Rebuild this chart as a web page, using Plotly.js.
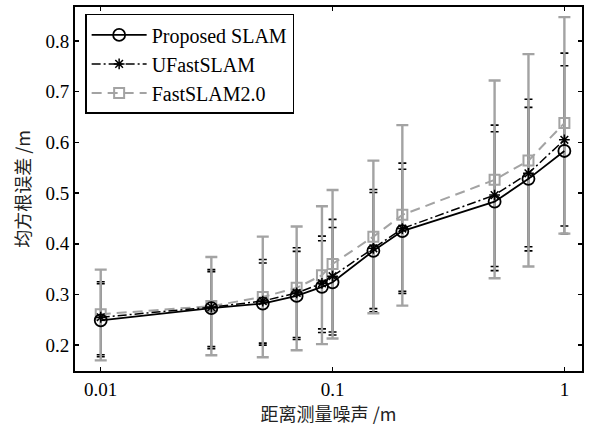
<!DOCTYPE html>
<html>
<head>
<meta charset="utf-8">
<script src="https://cdn.plot.ly/plotly-3.0.1.min.js"></script>
<style>html,body{margin:0;padding:0;background:#fff;}#chart{width:589px;height:427px;}</style>
</head>
<body>
<div id="chart"></div>
<script>
// Noise levels (m)
const noise = [0.01, 0.03, 0.05, 0.07, 0.09, 0.1, 0.15, 0.2, 0.5, 0.7, 1];
const tickVals = [0.01, 0.1, 1];
const tickText = ['0.01', '0.1', '1'];

// Proposed SLAM
const proposed      = [0.249, 0.273, 0.282, 0.297, 0.315, 0.324, 0.386, 0.425, 0.483, 0.528, 0.583];
const proposedUpper = [0.321, 0.345, 0.362, 0.385, 0.406, 0.432, 0.501, 0.547, 0.621, 0.669, 0.751];
const proposedLower = [0.181, 0.197, 0.204, 0.215, 0.232, 0.226, 0.272, 0.306, 0.355, 0.394, 0.435];

// UFastSLAM
const ufast      = [0.255, 0.275, 0.287, 0.303, 0.322, 0.336, 0.391, 0.430, 0.496, 0.539, 0.605];
const ufastUpper = [0.325, 0.349, 0.369, 0.392, 0.415, 0.448, 0.507, 0.559, 0.634, 0.685, 0.776];
const ufastLower = [0.177, 0.193, 0.200, 0.211, 0.225, 0.220, 0.266, 0.302, 0.347, 0.386, 0.420];

// FastSLAM2.0
const fast      = [0.261, 0.277, 0.295, 0.313, 0.338, 0.360, 0.414, 0.457, 0.526, 0.564, 0.638];
const fastUpper = [0.349, 0.374, 0.414, 0.434, 0.474, 0.506, 0.564, 0.634, 0.722, 0.774, 0.847];
const fastLower = [0.170, 0.180, 0.176, 0.190, 0.202, 0.213, 0.263, 0.278, 0.332, 0.355, 0.420];

const names = ['Proposed SLAM', 'UFastSLAM', 'FastSLAM2.0'];

const up = (v, u) => u.map((x, i) => x - v[i]);
const dn = (v, l) => l.map((x, i) => v[i] - x);

const GRAY = '#a3a3a3';
const serif = 'Liberation Serif, Times New Roman, serif';

const traces = [
  { x: noise, y: proposed, mode: 'markers', marker: {opacity: 0, size: 1}, showlegend: false, hoverinfo: 'skip',
    error_y: {type: 'data', symmetric: false, array: up(proposed, proposedUpper), arrayminus: dn(proposed, proposedLower),
      color: '#000', thickness: 1.6, width: 4} },
  { x: noise, y: ufast, mode: 'markers', marker: {opacity: 0, size: 1}, showlegend: false, hoverinfo: 'skip',
    error_y: {type: 'data', symmetric: false, array: up(ufast, ufastUpper), arrayminus: dn(ufast, ufastLower),
      color: '#000', thickness: 1.6, width: 4} },
  { x: noise, y: fast, name: names[2], legendrank: 3, mode: 'lines+markers',
    line: {color: GRAY, width: 2, dash: '10px,6px'},
    marker: {symbol: 'square-open', size: 10, color: GRAY, line: {width: 2, color: GRAY}},
    error_y: {type: 'data', symmetric: false, array: up(fast, fastUpper), arrayminus: dn(fast, fastLower),
      color: GRAY, thickness: 2.4, width: 6} },
  { x: noise, y: ufast, name: names[1], legendrank: 2, mode: 'lines+markers',
    line: {color: '#000', width: 1.5, dash: '9px,3px,2px,3px'},
    marker: {symbol: 'asterisk-open', size: 9, color: '#000', line: {width: 1.5, color: '#000'}} },
  { x: noise, y: proposed, name: names[0], legendrank: 1, mode: 'lines+markers',
    line: {color: '#000', width: 1.8},
    marker: {symbol: 'circle-open', size: 12, color: '#000', line: {width: 1.8, color: '#000'}} }
];

const layout = {
  width: 589, height: 427,
  margin: {l: 75, r: 7, t: 7, b: 56},
  paper_bgcolor: '#fff', plot_bgcolor: '#fff',
  showlegend: true,
  legend: {x: 0.02, y: 0.981, xanchor: 'left', yanchor: 'top', bgcolor: '#fff',
    bordercolor: '#000', borderwidth: 1.5, font: {family: serif, size: 20, color: '#000'},
    itemwidth: 55, tracegroupgap: 0},
  xaxis: {type: 'log', range: [-2.111, 0.076], tickvals: tickVals, ticktext: tickText,
    ticks: 'inside', ticklen: 4, tickwidth: 1.5, tickcolor: '#000',
    showline: true, linecolor: '#000', linewidth: 2, mirror: 'ticks', showgrid: false, zeroline: false,
    tickfont: {family: serif, size: 19, color: '#000'},
    title: {text: '距离测量噪声 /m', font: {family: 'Noto Sans CJK SC', size: 18, color: '#222'}, standoff: 6}},
  yaxis: {range: [0.149, 0.867], tick0: 0.2, dtick: 0.1, tickformat: '.1f',
    ticks: 'inside', ticklen: 4, tickwidth: 1.5, tickcolor: '#000',
    showline: true, linecolor: '#000', linewidth: 2, mirror: 'ticks', showgrid: false, zeroline: false,
    tickfont: {family: serif, size: 19, color: '#000'},
    title: {text: '均方根误差 /m', font: {family: 'Noto Sans CJK SC', size: 18, color: '#222'}, standoff: 10}}
};

Plotly.newPlot('chart', traces, layout, {displayModeBar: false, staticPlot: true});
</script>
</body>
</html>
